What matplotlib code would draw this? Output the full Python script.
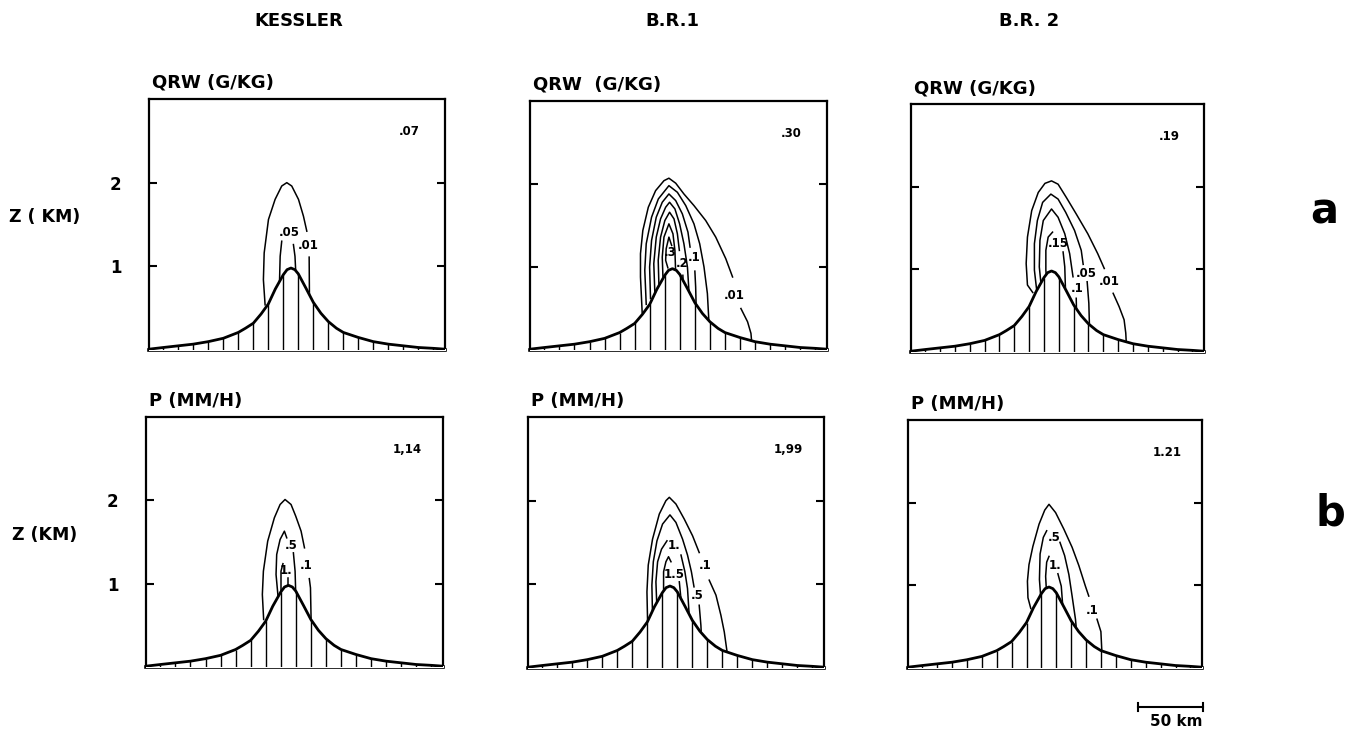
import matplotlib.pyplot as plt
from matplotlib.lines import Line2D
import numpy as np

plt.rcParams['font.family'] = 'DejaVu Sans'
plt.rcParams['font.weight'] = 'bold'

W, H = 1347, 732

# terrain (km): hatch columns and a few extra ridge points
hatch_x = np.arange(19) * 11.54 - 98.2
hatch_z = [0.03, 0.05, 0.07, 0.10, 0.14, 0.21, 0.32, 0.55, 0.90, 0.91,
           0.57, 0.34, 0.21, 0.15, 0.10, 0.07, 0.05, 0.03, 0.02]
ridge_x = [-109.2, -35, -23, -12, -3, 0, 3, 11.5, 23, 35, 118.5]
ridge_z = [0.01, 0.26, 0.43, 0.73, 0.96, 0.98, 0.96, 0.74, 0.44, 0.26, 0.01]

columns = ['KESSLER', 'B.R.1', 'B.R. 2']
row_titles = ['QRW (G/KG)', 'P (MM/H)']
max_values = ['.07', '.30', '.19', '1,14', '1,99', '1.21']

# contour lines, (x km, z km), split where a label sits
qrw_kessler = [
    [(-19.9, 0.54), (-21.2, 0.84), (-20.6, 1.16), (-17.3, 1.56), (-12.2, 1.80), (-7.1, 1.96),
     (-3.2, 2.0), (0.6, 1.96), (5.8, 1.80), (9.6, 1.60), (12.2, 1.42)],
    [(14.0, 1.11), (14.2, 0.68), (14.3, 0.55)],
    [(-8.8, 0.82), (-8.3, 1.12), (-7.1, 1.30)],
    [(1.9, 1.26), (3.1, 1.12), (3.8, 0.90)],
]
qrw_kessler_labels = [('.05', -1.5, 1.40), ('.01', 13.5, 1.25)]

qrw_br1 = [
    [(-23.2, 0.45), (-24.5, 0.88), (-24.5, 1.16), (-22.7, 1.44), (-18.5, 1.72), (-12.9, 1.92),
     (-6.5, 2.04), (-2.7, 2.07), (2.5, 2.01), (8.8, 1.88), (16.5, 1.74), (25.5, 1.56),
     (33.2, 1.36), (40.9, 1.10), (46.1, 0.88)],
    [(52.5, 0.50), (57.6, 0.34), (60.2, 0.20), (61.0, 0.05)],
    [(-20.1, 0.55), (-21.2, 0.96), (-20.1, 1.28), (-16.0, 1.60), (-10.8, 1.82), (-2.7, 1.98),
     (3.8, 1.90), (10.2, 1.74), (16.5, 1.52), (20.9, 1.28), (24.2, 1.00), (26.8, 0.68), (28.1, 0.30)],
    [(-16.8, 0.62), (-17.5, 1.0), (-16.0, 1.32), (-12.4, 1.60), (-7.8, 1.78), (-2.7, 1.88),
     (2.5, 1.80), (7.6, 1.64), (11.9, 1.42), (13.5, 1.24)],
    [(17.2, 0.95), (17.8, 0.76), (18.3, 0.45)],
    [(-13.5, 0.70), (-14.3, 1.04), (-12.4, 1.36), (-9.1, 1.58), (-5.2, 1.72), (-2.2, 1.78),
     (1.9, 1.70), (5.5, 1.52), (8.8, 1.28), (11.5, 1.0), (12.7, 0.70)],
    [(-10.4, 0.80), (-10.9, 1.08), (-9.1, 1.36), (-5.8, 1.56), (-2.2, 1.66), (1.2, 1.58),
     (3.8, 1.40), (5.3, 1.20)],
    [(8.0, 0.90), (8.3, 0.80)],
    [(-7.3, 0.89), (-7.8, 1.12), (-6.5, 1.36), (-2.7, 1.52), (0.4, 1.40), (1.9, 1.20), (2.5, 0.92)],
    [(-3.5, 0.99), (-5.2, 1.08), (-4.8, 1.22), (-2.7, 1.36), (-0.6, 1.26)],
]
qrw_br1_labels = [('.3', -1.6, 1.18), ('.2', 7.8, 1.04), ('.1', 16.8, 1.11), ('.01', 47.5, 0.66)]

qrw_br2 = [
    [(-14.6, 0.72), (-18.7, 0.81), (-19.7, 1.07), (-18.7, 1.39), (-15.4, 1.71), (-10.3, 1.93),
     (-5.1, 2.04), (0.0, 2.07), (5.1, 2.03), (11.5, 1.87), (19.2, 1.67), (28.2, 1.43),
     (35.9, 1.19), (41.0, 1.01)],
    [(47.9, 0.71), (52.5, 0.55), (56.4, 0.39), (57.7, 0.23), (58.2, 0.08)],
    [(-10.8, 0.65), (-13.3, 0.99), (-13.3, 1.31), (-11.0, 1.59), (-6.9, 1.81), (-0.5, 1.91),
     (5.1, 1.85), (11.0, 1.69), (17.9, 1.47), (23.1, 1.23), (24.6, 1.06)],
    [(27.7, 0.85), (29.0, 0.59), (29.5, 0.30)],
    [(-7.7, 0.75), (-9.5, 1.03), (-9.0, 1.35), (-6.4, 1.59), (0.0, 1.73), (5.1, 1.63),
     (10.3, 1.43), (14.1, 1.19), (16.7, 0.91)],
    [(19.2, 0.65), (19.5, 0.45)],
    [(-3.8, 0.87), (-4.4, 0.99), (-4.4, 1.23), (-2.6, 1.39), (0.8, 1.45)],
    [(9.0, 1.21), (10.3, 1.03), (10.8, 0.78)],
]
qrw_br2_labels = [('.15', 5.1, 1.31), ('.05', 26.9, 0.95), ('.1', 19.9, 0.77), ('.01', 44.9, 0.85)]

p_kessler = [
    [(-19.0, 0.57), (-20.0, 0.87), (-19.2, 1.15), (-15.9, 1.51), (-10.8, 1.79), (-6.4, 1.95),
     (-2.6, 2.01), (2.0, 1.95), (5.6, 1.81), (9.7, 1.63), (12.3, 1.43)],
    [(16.0, 1.06), (16.9, 0.95), (17.4, 0.55)],
    [(-7.7, 0.80), (-9.5, 1.11), (-9.0, 1.35), (-6.4, 1.53), (-3.1, 1.63), (-1.3, 1.55)],
    [(3.8, 1.37), (5.1, 1.15), (5.6, 0.88)],
    [(-5.7, 0.92), (-5.7, 1.15), (-4.2, 1.24)],
    [(0.0, 1.07), (0.0, 0.95)],
]
p_kessler_labels = [('.1', 13.8, 1.22), ('.5', 2.0, 1.46), ('1.', -1.8, 1.16)]

p_br1 = [
    [(-17.2, 0.55), (-17.7, 0.91), (-16.7, 1.23), (-13.4, 1.54), (-8.2, 1.84), (-3.1, 2.0),
     (-0.5, 2.04), (4.6, 1.96), (11.0, 1.78), (17.4, 1.58), (22.5, 1.38)],
    [(30.2, 1.05), (35.4, 0.87), (39.2, 0.63), (41.8, 0.43), (44.3, 0.15)],
    [(-13.4, 0.62), (-13.9, 0.99), (-12.8, 1.27), (-10.0, 1.52), (-5.7, 1.72), (0.0, 1.83),
     (4.6, 1.74), (9.7, 1.54), (13.5, 1.35), (16.5, 1.15), (18.5, 0.97)],
    [(22.5, 0.75), (23.8, 0.51), (24.2, 0.38)],
    [(-10.0, 0.70), (-10.8, 1.03), (-9.5, 1.27), (-6.5, 1.42), (-2.3, 1.52)],
    [(8.5, 1.35), (11.5, 1.15), (13.5, 0.95), (15.0, 0.58)],
    [(-4.9, 0.88), (-4.9, 1.15), (-3.1, 1.27), (-1.1, 1.33), (0.8, 1.27)],
    [(7.2, 1.03), (8.5, 0.82)],
]
p_br1_labels = [('.1', 27.3, 1.23), ('.5', 21.0, 0.87), ('1.', 3.3, 1.46), ('1.5', 3.3, 1.12)]

p_br2 = [
    [(-14.1, 0.72), (-16.3, 0.85), (-16.7, 1.05), (-15.5, 1.25), (-12.5, 1.47), (-7.7, 1.74),
     (-3.3, 1.91), (0.0, 1.98), (5.1, 1.88), (11.5, 1.68), (17.9, 1.46), (23.1, 1.24),
     (28.2, 0.99), (30.8, 0.87)],
    [(37.2, 0.59), (40.2, 0.44), (41.0, 0.18)],
    [(-5.9, 0.75), (-7.4, 1.07), (-6.9, 1.38), (-4.4, 1.58), (-1.8, 1.66)],
    [(8.5, 1.52), (12.1, 1.36), (15.4, 1.13), (17.9, 0.87), (20.5, 0.59), (21.5, 0.42)],
    [(-1.8, 0.87), (-2.6, 1.11), (-1.8, 1.28), (0.0, 1.35)],
    [(6.9, 1.14), (9.5, 0.99), (10.8, 0.72)],
]
p_br2_labels = [('.1', 33.3, 0.69), ('.5', 3.8, 1.58), ('1.', 4.4, 1.24)]

panels = [(qrw_kessler, qrw_kessler_labels), (qrw_br1, qrw_br1_labels), (qrw_br2, qrw_br2_labels),
          (p_kessler, p_kessler_labels), (p_br1, p_br1_labels), (p_br2, p_br2_labels)]

# axes boxes in pixels: left, right, top, bottom
boxes = [(149, 445, 99, 350), (530, 827, 101, 350), (911, 1204, 104, 352),
         (146, 443, 417, 667), (528, 824, 417, 668), (908, 1202, 420, 668)]

fig = plt.figure(figsize=(W / 100, H / 100), dpi=100)


def ftext(x, y, s, **kw):
    fig.text(x / W, 1 - y / H, s, **kw)


terrain = sorted(zip(list(hatch_x) + ridge_x, hatch_z + ridge_z))
tx = [p[0] for p in terrain]
tz = [p[1] for p in terrain]

for i, ((segs, labels), (l, r, t, b)) in enumerate(zip(panels, boxes)):
    ax = fig.add_axes([l / W, 1 - b / H, (r - l) / W, (b - t) / H])
    ax.set_xlim(-109.2, 118.5)
    ax.set_ylim(0, 3.0)

    for seg in segs:
        ax.plot([p[0] for p in seg], [p[1] for p in seg], color='black', lw=1.1, zorder=2)
    for txt, x, z in labels:
        ax.text(x, z, txt, ha='center', va='center', fontsize=8.5, zorder=6)

    ax.fill_between(tx, 0, tz, color='white', zorder=3)
    ax.vlines(hatch_x, 0, hatch_z, color='black', lw=1.0, zorder=4)
    ax.plot(tx, tz, color='black', lw=2.0, zorder=5)

    ax.text(0.88, 0.87, max_values[i], transform=ax.transAxes, ha='center', va='center', fontsize=8.5)

    for s in ax.spines.values():
        s.set_linewidth(1.6)
    ax.spines['bottom'].set_linewidth(2.6)
    ax.set_xticks([])
    ax.set_yticks([1, 2])
    ax.tick_params(axis='y', direction='in', length=6, width=1.5, left=True, right=True,
                   labelsize=12, pad=20)
    if i % 3 == 0:
        ax.set_yticklabels(['1', '2'], fontweight='bold')
    else:
        ax.set_yticklabels([])

    title = row_titles[i // 3]
    if i == 1:
        title = 'QRW  (G/KG)'
    ftext(l + 3, t - 16, title, ha='left', va='center', fontsize=13)

for x, name in zip([299, 672, 1029], columns):
    ftext(x, 21, name, ha='center', va='center', fontsize=13)

ftext(45, 217, 'Z ( KM)', ha='center', va='center', fontsize=12.5)
ftext(45, 535, 'Z (KM)', ha='center', va='center', fontsize=12.5)
ftext(1324, 211, 'a', ha='center', va='center', fontsize=30)
ftext(1330, 513, 'b', ha='center', va='center', fontsize=30)

# 50 km scale bar
y_bar = 1 - 707 / H
fig.add_artist(Line2D([1138 / W, 1203 / W], [y_bar, y_bar], color='black', lw=1.5))
for xb in (1138, 1203):
    fig.add_artist(Line2D([xb / W, xb / W], [y_bar - 4 / H, y_bar + 4 / H], color='black', lw=1.5))
ftext(1176, 722, '50 km', ha='center', va='center', fontsize=11)

fig.savefig('out.png', dpi=100)
